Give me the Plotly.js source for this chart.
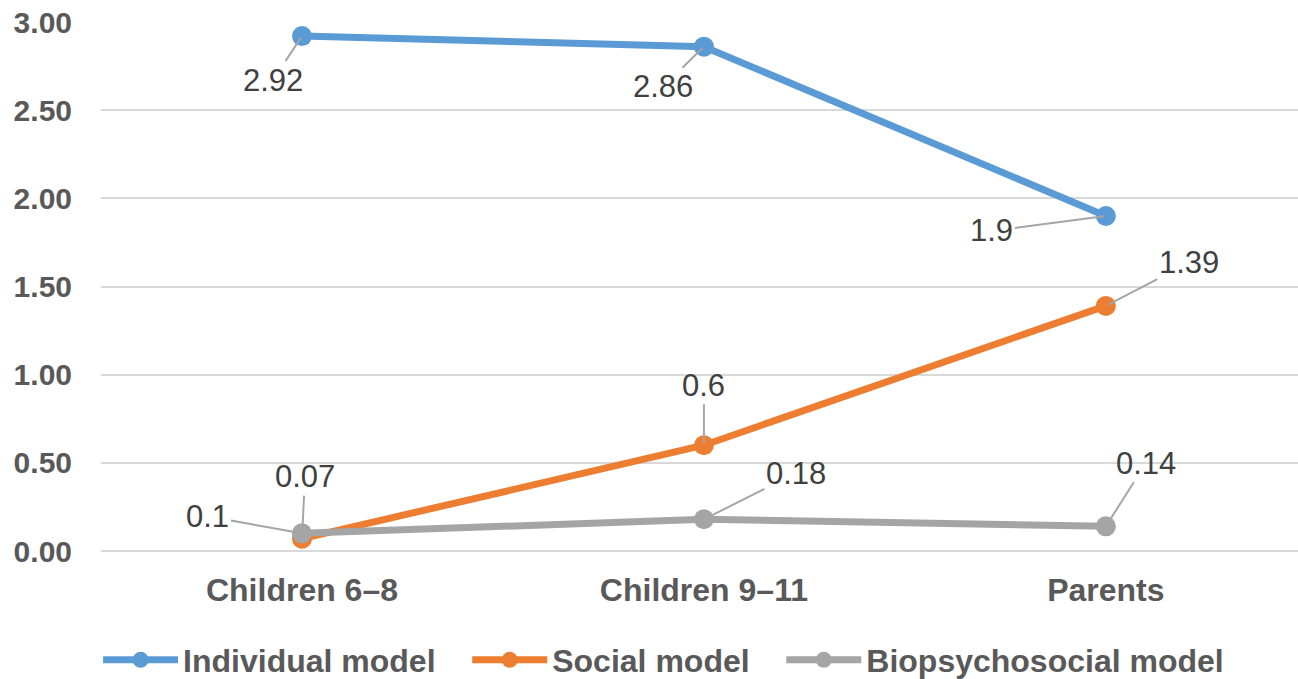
<!DOCTYPE html>
<html>
<head>
<meta charset="utf-8">
<script src="https://cdn.plot.ly/plotly-3.0.1.min.js"></script>
<style>html,body{margin:0;padding:0;background:#fff;}#chart{width:1298px;height:679px;}</style>
</head>
<body>
<div id="chart"></div>
<script>
const categories = ["Children 6–8", "Children 9–11", "Parents"];
const seriesNames = ["Individual model", "Social model", "Biopsychosocial model"];
const individualValues = [2.92, 2.86, 1.9];
const socialValues = [0.07, 0.6, 1.39];
const biopsychosocialValues = [0.1, 0.18, 0.14];
const yTickValues = [0, 0.5, 1, 1.5, 2, 2.5, 3];
const yTickLabels = ["0.00", "0.50", "1.00", "1.50", "2.00", "2.50", "3.00"];

const colors = ["#5B9BD5", "#ED7D31", "#A5A5A5"];
const allValues = [individualValues, socialValues, biopsychosocialValues];

// label offsets (pixels) for each series/point
const labelOffsets = [
  [[-29, 44], [-41, 40], [-114, 15]],
  [[3, -62], [0, -60], [83, -43]],
  [[-94, -17], [92, -46], [40, -63]]
];

const traces = allValues.map((vals, i) => ({
  type: "scatter",
  mode: "lines+markers",
  name: seriesNames[i] + (i < 2 ? "\u00a0\u00a0\u00a0" : ""),
  x: categories,
  y: vals,
  line: {color: colors[i], width: 7},
  marker: {color: colors[i], size: 20},
  hovertemplate: seriesNames[i] + ": %{y}<extra></extra>"
}));

const annotations = [];
allValues.forEach((vals, i) => {
  vals.forEach((v, j) => {
    annotations.push({
      x: categories[j], y: v, xref: "x", yref: "y",
      text: String(v),
      showarrow: true, arrowhead: 0, arrowwidth: 2, arrowcolor: "#A5A5A5",
      standoff: 2,
      ax: labelOffsets[i][j][0], ay: labelOffsets[i][j][1],
      font: {family: "Liberation Sans, Arial, sans-serif", size: 31, color: "#404040"}
    });
  });
});

const layout = {
  width: 1298, height: 679,
  margin: {l: 101, r: 0, t: 22, b: 128},
  paper_bgcolor: "#fff", plot_bgcolor: "#fff",
  showlegend: true,
  legend: {
    orientation: "h", x: 0.47, xanchor: "center",
    yref: "container", y: 0.028, yanchor: "middle",
    font: {family: "Liberation Sans, Arial, sans-serif", size: 32, color: "#595959", weight: "bold"},
    itemwidth: 75, tracegroupgap: 0
  },
  xaxis: {
    type: "category",
    range: [-0.5, 2.478],
    showgrid: false, zeroline: false, showline: false,
    ticks: "", ticklabelstandoff: 17,
    tickfont: {family: "Liberation Sans, Arial, sans-serif", size: 32, color: "#595959", weight: "bold"},
    fixedrange: true
  },
  yaxis: {
    range: [0, 3],
    tickvals: yTickValues, ticktext: yTickLabels,
    showgrid: true, gridcolor: "#D9D9D9", gridwidth: 2,
    zeroline: true, zerolinecolor: "#D9D9D9", zerolinewidth: 2,
    showline: false, ticks: "", ticklabelstandoff: 28,
    tickfont: {family: "Liberation Sans, Arial, sans-serif", size: 30, color: "#595959", weight: "bold"},
    fixedrange: true
  },
  annotations: annotations
};

Plotly.newPlot("chart", traces, layout, {displayModeBar: false, responsive: false});
</script>
</body>
</html>
